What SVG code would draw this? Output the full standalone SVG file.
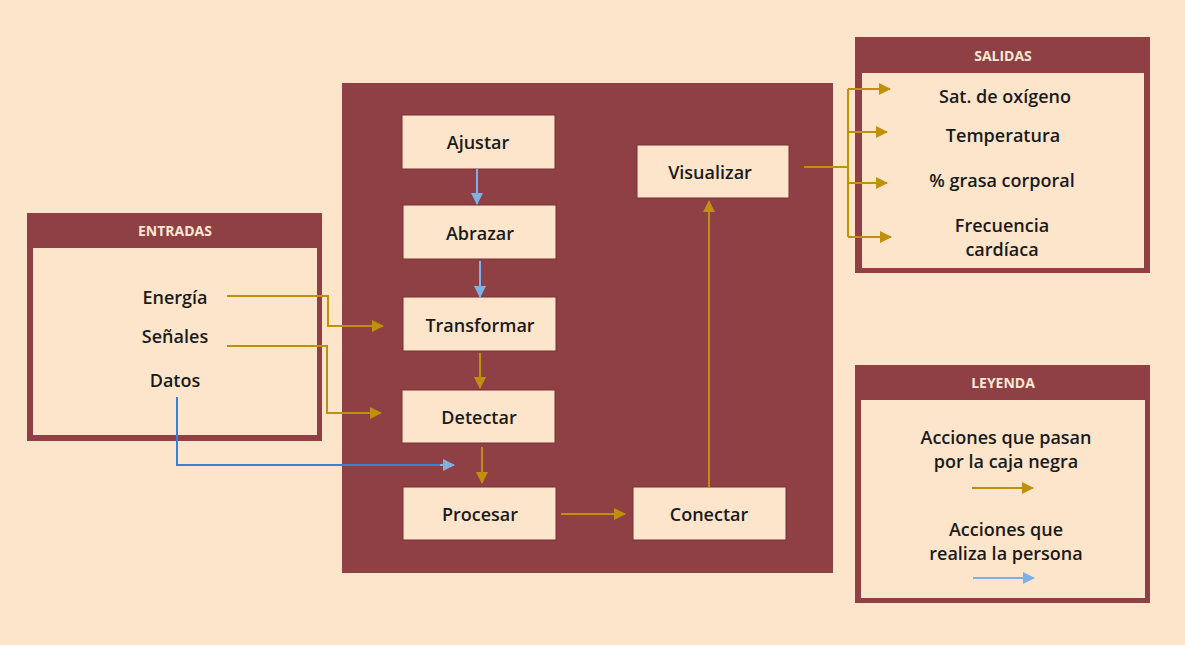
<svg xmlns="http://www.w3.org/2000/svg" width="1185" height="645" viewBox="0 0 1185 645">
<style>
.bg{fill:#fde5cb}
.dark{fill:#8e4045}
.panel{fill:#fde5cb}
.node{fill:#fde5cb;stroke:#7a2f33;stroke-width:1}
.t{font-family:"Open Sans","Liberation Sans",sans-serif;font-size:18px;font-weight:600;fill:#1a1a1a;text-anchor:middle}
.h{font-family:"Open Sans","Liberation Sans",sans-serif;font-size:14px;font-weight:700;fill:#fbe6d2;text-anchor:middle}
.g{fill:none;stroke:#c08f0c;stroke-width:2}
.b{fill:none;stroke:#7eb0e6;stroke-width:2}
.bd{fill:none;stroke:#3b7fdc;stroke-width:2}
</style>
<defs>
<marker id="ag" markerUnits="userSpaceOnUse" markerWidth="12" markerHeight="12" viewBox="0 0 12 12" refX="11" refY="6" orient="auto"><path d="M0,0 L12,6 L0,12 Z" fill="#c08f0c"/></marker>
<marker id="ab" markerUnits="userSpaceOnUse" markerWidth="12" markerHeight="12" viewBox="0 0 12 12" refX="11" refY="6" orient="auto"><path d="M0,0 L12,6 L0,12 Z" fill="#7eb0e6"/></marker>
</defs>
<rect class="bg" x="0" y="0" width="1185" height="645"/>

<g id="entradas">
<rect class="dark" x="27" y="213" width="295" height="228"/>
<rect class="panel" x="33" y="248" width="284" height="187"/>
<text class="h" x="175" y="236">ENTRADAS</text>
<text class="t" x="175" y="304">Energía</text>
<text class="t" x="175" y="343">Señales</text>
<text class="t" x="175" y="387">Datos</text>
</g>

<g id="caja-negra">
<rect class="dark" x="342" y="83" width="491" height="490"/>
</g>

<g id="ajustar"><rect class="node" x="402" y="115" width="153" height="54"/><text class="t" x="478" y="149">Ajustar</text></g>
<g id="abrazar"><rect class="node" x="403" y="205" width="153" height="54"/><text class="t" x="480" y="240">Abrazar</text></g>
<g id="transformar"><rect class="node" x="403" y="297" width="153" height="54"/><text class="t" x="480" y="332">Transformar</text></g>
<g id="detectar"><rect class="node" x="402" y="390" width="153" height="53"/><text class="t" x="479" y="424">Detectar</text></g>
<g id="procesar"><rect class="node" x="403" y="487" width="153" height="53"/><text class="t" x="480" y="521">Procesar</text></g>
<g id="conectar"><rect class="node" x="633" y="487" width="153" height="53"/><text class="t" x="709" y="521">Conectar</text></g>
<g id="visualizar"><rect class="node" x="637" y="145" width="152" height="53"/><text class="t" x="710" y="179">Visualizar</text></g>

<g id="salidas">
<rect class="dark" x="855" y="37" width="295" height="236"/>
<rect class="panel" x="862" y="73" width="282" height="195"/>
<text class="h" x="1003" y="61">SALIDAS</text>
<text class="t" x="1005" y="103">Sat. de oxígeno</text>
<text class="t" x="1003" y="142">Temperatura</text>
<text class="t" x="1002" y="187">% grasa corporal</text>
<text class="t" x="1002" y="232">Frecuencia</text>
<text class="t" x="1002" y="256">cardíaca</text>
</g>

<g id="leyenda">
<rect class="dark" x="855" y="365" width="295" height="238"/>
<rect class="panel" x="861" y="400" width="284" height="198"/>
<text class="h" x="1003" y="388">LEYENDA</text>
<text class="t" x="1006" y="444">Acciones que pasan</text>
<text class="t" x="1006" y="468">por la caja negra</text>
<path class="g" d="M972,488 H1033" marker-end="url(#ag)"/>
<text class="t" x="1006" y="536">Acciones que</text>
<text class="t" x="1006" y="560">realiza la persona</text>
<path class="b" d="M973,578 H1034" marker-end="url(#ab)"/>
</g>

<g id="connectors">
<path class="g" d="M227,296 H328 V326 H383" marker-end="url(#ag)"/>
<path class="g" d="M227,346 H327 V413 H381" marker-end="url(#ag)"/>
<path class="bd" d="M177,397 V465 H440"/>
<path class="b" d="M440,465 H454" marker-end="url(#ab)"/>
<path class="b" d="M477,169 V204" marker-end="url(#ab)"/>
<path class="b" d="M480,261 V297" marker-end="url(#ab)"/>
<path class="g" d="M480,353 V388" marker-end="url(#ag)"/>
<path class="g" d="M482,447 V483" marker-end="url(#ag)"/>
<path class="g" d="M561,514 H625" marker-end="url(#ag)"/>
<path class="g" d="M709,487 V201" marker-end="url(#ag)"/>
<path class="g" d="M804,167 H848"/>
<path class="g" d="M848,89 V237"/>
<path class="g" d="M848,89 H890" marker-end="url(#ag)"/>
<path class="g" d="M848,132 H887" marker-end="url(#ag)"/>
<path class="g" d="M848,183 H887" marker-end="url(#ag)"/>
<path class="g" d="M848,237 H891" marker-end="url(#ag)"/>
</g>
</svg>
